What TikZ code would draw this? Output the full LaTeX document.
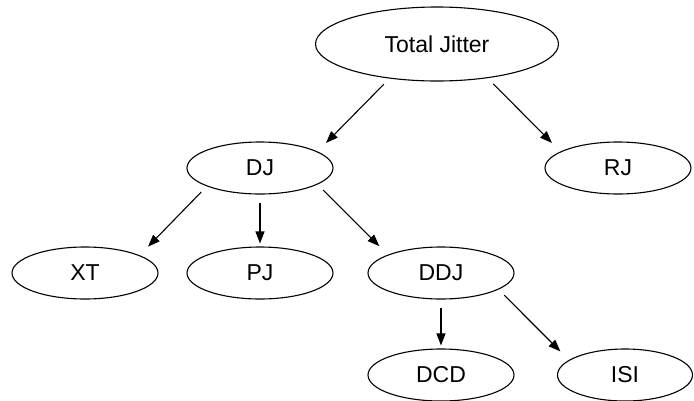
\documentclass[tikz,border=0pt]{standalone}
\usepackage{fontspec}
\setmainfont{Liberation Sans}
\usetikzlibrary{shapes,arrows.meta}
\usetikzlibrary{positioning}
\begin{document}
\begin{tikzpicture}[x=1pt,y=1pt]
\tikzset{myFont/.style={font=\fontsize{23}{27}\selectfont}}
\tikzset{myEllipse/.style={draw,ellipse,line width=1.1pt,inner sep=0pt,minimum width=146pt,minimum height=52pt,myFont}}
\tikzset{myArrow/.style={line width=1.1pt,-{Triangle[length=12pt,width=9pt]},shorten <=8pt,shorten >=3pt}}
\tikzset{myFar/.style={shorten >=12pt}}

\useasboundingbox (0,0) rectangle (694,-400);

\node[myEllipse,minimum width=243pt,minimum height=74pt] (total) at (437,-44) {Total Jitter};
\node[myEllipse,on grid,below left=124pt and 177pt of total] (dj) {DJ};
\node[myEllipse,on grid,below right=124pt and 181pt of total] (rj) {RJ};
\node[myEllipse,on grid,below left=105pt and 175pt of dj] (xt) {XT};
\node[myEllipse,on grid,below=105pt of dj] (pj) {PJ};
\node[myEllipse,on grid,below right=105pt and 181pt of dj] (ddj) {DDJ};
\node[myEllipse,on grid,below=102pt of ddj] (dcd) {DCD};
\node[myEllipse,on grid,minimum width=135pt,below right=102pt and 184pt of ddj] (isi) {ISI};

\draw[myArrow,myFar] (total.216) -- (dj.16);
\draw[myArrow,myFar] (total.326) -- (rj.164);
\draw[myArrow,myFar] (dj.199) -- (xt.18);
\draw[myArrow] (dj.270) -- (pj.90);
\draw[myArrow,myFar] (dj.344) -- (ddj.161);
\draw[myArrow] (ddj.270) -- (dcd.90);
\draw[myArrow,myFar] (ddj.344) -- (isi.165);

\end{tikzpicture}
\end{document}
